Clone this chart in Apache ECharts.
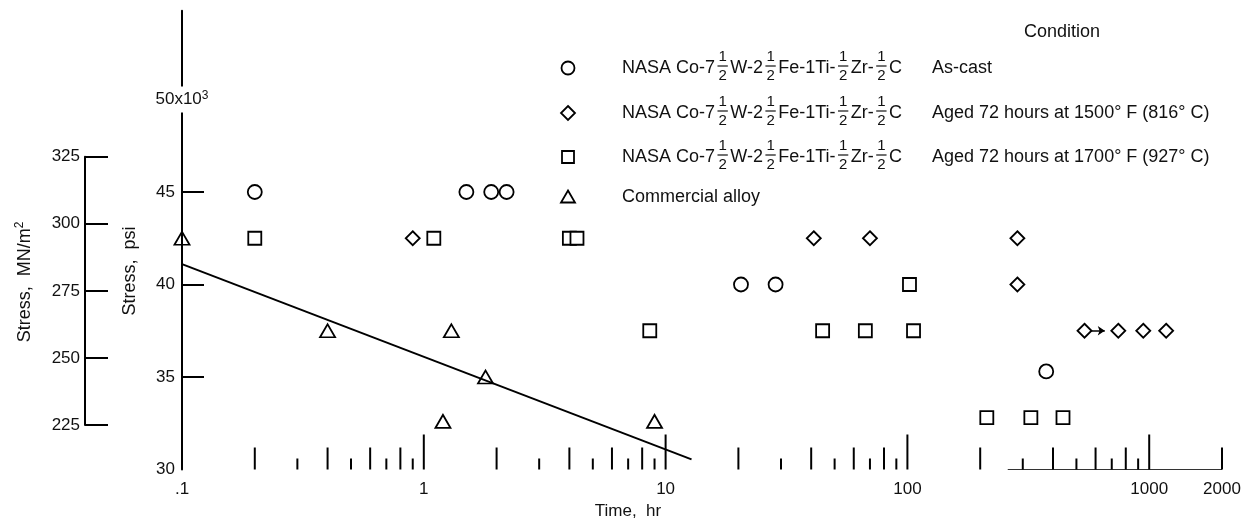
<!DOCTYPE html>
<html>
<head>
<meta charset="utf-8">
<script src="https://cdn.jsdelivr.net/npm/echarts@6/dist/echarts.min.js"></script>
<style>
  html, body { margin: 0; padding: 0; background: #fff; }
  #chart { width: 1250px; height: 524px; }
</style>
</head>
<body>
<div id="chart"></div>
<script>
// Stress-rupture results: time to rupture (hr) against stress (ksi)

// As-cast NASA alloy (circles)
const asCastTime   = [0.2, 1.5, 1.9, 2.2, 20.5, 28.5, 375];
const asCastStress = [45, 45, 45, 45, 40, 40, 35.3];

// Aged 72 hr at 1500 F (diamonds)
const aged1500Time   = [0.9, 41, 70, 285, 285, 540, 745, 945, 1175];
const aged1500Stress = [42.5, 42.5, 42.5, 42.5, 40, 37.5, 37.5, 37.5, 37.5];

// Aged 72 hr at 1700 F (squares)
const aged1700Time   = [0.2, 1.1, 4.0, 4.3, 8.6, 102, 44.6, 67, 106, 213, 324, 440];
const aged1700Stress = [42.5, 42.5, 42.5, 42.5, 37.5, 40, 37.5, 37.5, 37.5, 32.8, 32.8, 32.8];

// Commercial alloy (triangles) and its fitted line
const commercialTime   = [0.1, 0.4, 1.3, 1.8, 1.2, 9.0];
const commercialStress = [42.5, 37.5, 37.5, 35, 32.6, 32.6];
const fitTime   = [0.1, 12.8];
const fitStress = [41.1, 30.55];

// Test still running when stopped (arrow on the 1500 F specimen)
const runoutTime   = [540, 655];
const runoutStress = [37.5, 37.5];

// Axis ticks and labels
const psiLabels   = [30, 35, 40, 45];
const psiTicks    = [35, 40, 45];
const psiTopLabel = 50;
const mpaTicks    = [225, 250, 275, 300, 325];
const timeMajorTicks = [1, 10, 100, 1000];
const timeEvenTicks  = [0.2, 0.4, 0.6, 0.8, 2, 4, 6, 8, 20, 40, 60, 80, 200, 400, 600, 800, 2000];
const timeOddTicks   = [0.3, 0.5, 0.7, 0.9, 3, 5, 7, 9, 30, 50, 70, 90, 300, 500, 700, 900];
const baselineTime   = [260, 2000];

// Legend text
const alloyFormula = ['NASA Co-7', '/', 'W-2', '/', 'Fe-1Ti-', '/', 'Zr-', '/', 'C'];
const conditionNames = ['As-cast', 'Aged 72 hours at 1500\u00b0 F (816\u00b0 C)', 'Aged 72 hours at 1700\u00b0 F (927\u00b0 C)'];
const commercialName = 'Commercial alloy';
const conditionHeader = 'Condition';

const FAMILY = '"Liberation Sans", Arial, sans-serif';
const INK = '#111';
const zip = (a, b) => a.map((v, i) => [v, b[i]]);

const chart = echarts.init(document.getElementById('chart'));

// text measuring for the stacked-fraction formula
const mctx = document.createElement('canvas').getContext('2d');
function measure(t, size) { mctx.font = size + 'px ' + FAMILY; return mctx.measureText(t).width; }

const MAIN = 18, FRAC = 15, FORMULA_WIDTH = 280;
function formula(x0, yc) {
  const els = [];
  const fracW = measure('1', FRAC) + 2;
  let natural = 0;
  alloyFormula.forEach(p => { natural += p === '/' ? fracW : measure(p, MAIN); });
  const nFrac = alloyFormula.filter(p => p === '/').length;
  const pad = Math.max(1, (FORMULA_WIDTH - natural) / (2 * nFrac));
  let x = x0;
  alloyFormula.forEach(p => {
    if (p === '/') {
      x += pad;
      const cx = x + fracW / 2;
      els.push({ type: 'text', x: cx, y: yc - 11, style: { text: '1', font: FRAC + 'px ' + FAMILY, fill: INK, align: 'center', verticalAlign: 'middle' } });
      els.push({ type: 'text', x: cx, y: yc + 7.5, style: { text: '2', font: FRAC + 'px ' + FAMILY, fill: INK, align: 'center', verticalAlign: 'middle' } });
      els.push({ type: 'line', shape: { x1: x, y1: yc - 2, x2: x + fracW, y2: yc - 2 }, style: { stroke: INK, lineWidth: 1.2 } });
      x += fracW + pad;
    } else {
      els.push({ type: 'text', x: x, y: yc, style: { text: p, font: MAIN + 'px ' + FAMILY, fill: INK, align: 'left', verticalAlign: 'middle' } });
      x += measure(p, MAIN);
    }
  });
  return els;
}

const SYM_X = 568, TEXT_X = 622, COND_X = 932;
const rowY = [68, 113, 157, 197];
const symStyle = { stroke: '#000', lineWidth: 1.8, fill: '#fff' };
const legendEls = [
  { type: 'circle', shape: { cx: SYM_X, cy: rowY[0], r: 6.5 }, style: symStyle },
  { type: 'polygon', shape: { points: [[SYM_X, rowY[1] - 7], [SYM_X + 7, rowY[1]], [SYM_X, rowY[1] + 7], [SYM_X - 7, rowY[1]]] }, style: symStyle },
  { type: 'rect', shape: { x: SYM_X - 6, y: rowY[2] - 6, width: 12, height: 12 }, style: symStyle },
  { type: 'polygon', shape: { points: [[SYM_X, rowY[3] - 6.5], [SYM_X + 7, rowY[3] + 5.5], [SYM_X - 7, rowY[3] + 5.5]] }, style: symStyle },
  { type: 'text', x: 1062, y: 32, style: { text: conditionHeader, font: MAIN + 'px ' + FAMILY, fill: INK, align: 'center', verticalAlign: 'middle' } },
  { type: 'text', x: TEXT_X, y: rowY[3], style: { text: commercialName, font: MAIN + 'px ' + FAMILY, fill: INK, align: 'left', verticalAlign: 'middle' } }
];
for (let i = 0; i < 3; i++) {
  legendEls.push(...formula(TEXT_X, rowY[i]));
  legendEls.push({ type: 'text', x: COND_X, y: rowY[i], style: { text: conditionNames[i], font: MAIN + 'px ' + FAMILY, fill: INK, align: 'left', verticalAlign: 'middle' } });
}

const axisFont = { fontSize: 17, fontFamily: FAMILY, color: INK };
const markerStyle = { color: '#fff', borderColor: '#000', borderWidth: 1.8, opacity: 1 };

function tickSeries(values, len) {
  return {
    type: 'scatter', xAxisIndex: 0, yAxisIndex: 0, silent: true, z: 1,
    data: values.map(v => [v, psiLabels[0]]),
    symbol: 'rect', symbolSize: [2, len], symbolOffset: [0, -len / 2],
    itemStyle: { color: '#000', opacity: 1 }
  };
}

const option = {
  backgroundColor: '#fff',
  animation: false,
  grid: [
    { left: 182, right: 28, top: 10.7, bottom: 54.5 },
    { left: 85, width: 40, top: 156.7, height: 268.3 }
  ],
  xAxis: [
    {
      gridIndex: 0, type: 'log', logBase: 10, min: 0.1, max: 2000,
      axisLine: { show: false }, axisTick: { show: false }, splitLine: { show: false },
      axisLabel: Object.assign({
        margin: 11,
        formatter: v => (v < 1 ? String(+v.toPrecision(3)).replace(/^0/, '') : String(Math.round(v)))
      }, axisFont)
    },
    { gridIndex: 1, type: 'value', show: false }
  ],
  yAxis: [
    {
      gridIndex: 0, type: 'value', min: 30, max: 54.8, interval: 5,
      axisLine: { show: true, onZero: false, lineStyle: { color: '#000', width: 2 } },
      axisTick: { show: true, inside: true, length: 22, customValues: psiTicks, lineStyle: { color: '#000', width: 2 } },
      axisLabel: Object.assign({ margin: 7, customValues: psiLabels }, axisFont),
      splitLine: { show: false }
    },
    {
      gridIndex: 1, type: 'value', min: mpaTicks[0], max: mpaTicks[mpaTicks.length - 1], interval: 25,
      axisLine: { show: true, onZero: false, lineStyle: { color: '#000', width: 2 } },
      axisTick: { show: true, inside: true, length: 23, lineStyle: { color: '#000', width: 2 } },
      axisLabel: Object.assign({ margin: 5 }, axisFont),
      splitLine: { show: false }
    }
  ],
  graphic: [
    { type: 'text', x: 25, y: 282, rotation: Math.PI / 2,
      style: { text: '{a|Stress,  MN/m}{s|2}', font: '18px ' + FAMILY, fill: INK, align: 'center', verticalAlign: 'middle',
        rich: { a: { fontSize: 18, fontFamily: FAMILY, fill: INK, lineHeight: 22 }, s: { fontSize: 12, fontFamily: FAMILY, fill: INK, verticalAlign: 'top', lineHeight: 22 } } } },
    { type: 'text', x: 130, y: 271, rotation: Math.PI / 2,
      style: { text: 'Stress,  psi', font: '18px ' + FAMILY, fill: INK, align: 'center', verticalAlign: 'middle' } },
    { type: 'text', x: 628, y: 511,
      style: { text: 'Time,  hr', font: '17px ' + FAMILY, fill: INK, align: 'center', verticalAlign: 'middle' } },
    ...legendEls
  ],
  series: [
    tickSeries(timeMajorTicks, 35),
    tickSeries(timeEvenTicks, 22),
    tickSeries(timeOddTicks, 11),
    {
      type: 'line', silent: true, data: baselineTime.map(t => [t, psiLabels[0]]),
      symbol: 'none', lineStyle: { color: '#333', width: 1 }, z: 1
    },
    {
      type: 'line', silent: true, data: zip(fitTime, fitStress),
      symbol: 'none', lineStyle: { color: '#000', width: 2 }, z: 2
    },
    {
      type: 'lines', coordinateSystem: 'cartesian2d', silent: true, z: 2,
      data: [{ coords: zip(runoutTime, runoutStress) }],
      symbol: ['none', 'arrow'], symbolSize: 7,
      lineStyle: { color: '#000', width: 1.5, opacity: 1 }
    },
    {
      name: 'As-cast', type: 'scatter', z: 4, data: zip(asCastTime, asCastStress),
      symbol: 'circle', symbolSize: 14, itemStyle: markerStyle
    },
    {
      name: 'Aged 1500', type: 'scatter', z: 4, data: zip(aged1500Time, aged1500Stress),
      symbol: 'diamond', symbolSize: 14, itemStyle: markerStyle
    },
    {
      name: 'Aged 1700', type: 'scatter', z: 4, data: zip(aged1700Time, aged1700Stress),
      symbol: 'rect', symbolSize: 13, itemStyle: markerStyle
    },
    {
      name: 'Commercial', type: 'scatter', z: 4, data: zip(commercialTime, commercialStress),
      symbol: 'triangle', symbolSize: [15, 13], itemStyle: { color: 'rgba(255,255,255,0)', borderColor: '#000', borderWidth: 1.8, opacity: 1 }
    },
    {
      // multiplier label sitting on the stress axis
      type: 'scatter', silent: true, z: 5, data: [[0.1, psiTopLabel]], symbolSize: 0,
      itemStyle: { opacity: 1 },
      label: {
        show: true, position: 'inside', formatter: '{a|' + psiTopLabel + 'x10}{s|3}',
        color: INK, textBorderWidth: 0, backgroundColor: '#fff', padding: [3, 1],
        rich: { a: { fontSize: 17, fontFamily: FAMILY, color: INK, textBorderWidth: 0, lineHeight: 20 }, s: { fontSize: 12, fontFamily: FAMILY, color: INK, textBorderWidth: 0, verticalAlign: 'top', lineHeight: 20 } }
      }
    }
  ]
};
chart.setOption(option);
</script>
</body>
</html>
